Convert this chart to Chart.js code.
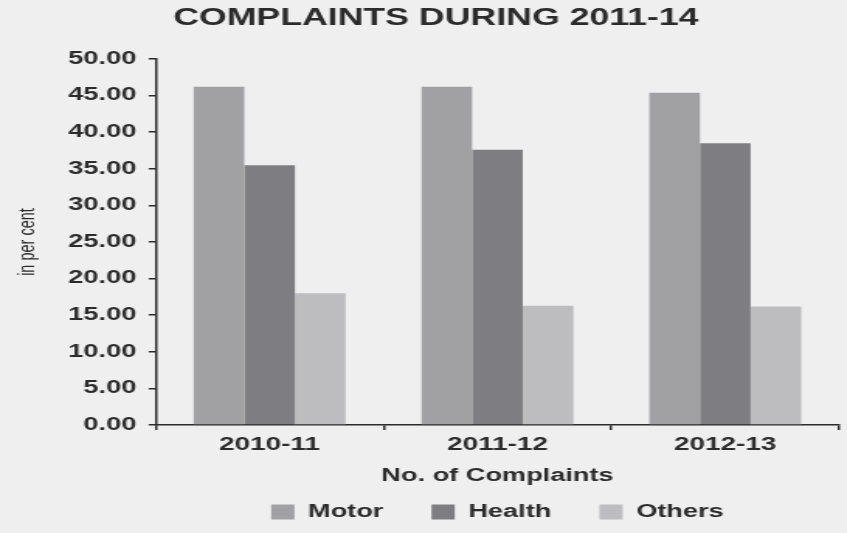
<!DOCTYPE html>
<html>
<head>
<meta charset="utf-8">
<title>Complaints during 2011-14</title>
<script src="https://cdn.jsdelivr.net/npm/chart.js@4.4.1/dist/chart.umd.min.js"></script>
<style>
  html, body { margin: 0; padding: 0; background: #efefef; }
  #complaintsChart { display: block; background: #efefef; }
</style>
</head>
<body>
<!-- canvas is drawn narrow and stretched wide, like the printed figure -->
<canvas id="complaintsChart" width="546" height="533" style="width:847px;height:533px"></canvas>
<script>
// Share of complaints by line of business (in per cent)
const categories = ['2010-11', '2011-12', '2012-13'];
const motor = [46.2, 46.2, 45.4];
const health = [35.5, 37.6, 38.5];
const others = [18.0, 16.3, 16.2];
const yMax = 50;
const yStep = 5;

const ink = '#2b2b2b';
Chart.defaults.font.family = "'Liberation Sans', Arial, sans-serif";
Chart.defaults.color = ink;

const canvas = document.getElementById('complaintsChart');
new Chart(canvas, {
  type: 'bar',
  data: {
    labels: categories,
    datasets: [
      { label: 'Motor', data: motor, backgroundColor: '#a1a1a3', borderWidth: 0 },
      { label: 'Health', data: health, backgroundColor: '#7e7d82', borderWidth: 0 },
      { label: 'Others', data: others, backgroundColor: '#bdbdbf', borderWidth: 0 }
    ]
  },
  options: {
    responsive: false,
    devicePixelRatio: 1,
    animation: false,
    layout: { padding: { top: 0, right: 5, bottom: 2.25, left: 21 } },
    datasets: { bar: { categoryPercentage: 0.667, barPercentage: 1 } },
    plugins: {
      title: {
        display: true,
        text: 'COMPLAINTS DURING 2011-14',
        color: ink,
        font: { size: 23, weight: 'bold' },
        padding: { top: 5, bottom: 26.4 }
      },
      legend: {
        position: 'bottom',
        fullSize: false,
        labels: {
          boxWidth: 15,
          boxHeight: 15,
          padding: 31,
          color: ink,
          font: { size: 17.5, weight: 'bold' }
        }
      },
      tooltip: { enabled: false }
    },
    scales: {
      x: {
        grid: { display: true, drawOnChartArea: false, offset: true, tickLength: 5, color: ink, lineWidth: 1.5 },
        border: { display: true, color: ink, width: 1.5 },
        ticks: { padding: 4, color: ink, font: { size: 18, weight: 'bold' } },
        title: {
          display: true,
          text: 'No. of Complaints',
          color: ink,
          font: { size: 17.5, weight: 'bold' },
          padding: { top: 5.9, bottom: -14.25 }
        }
      },
      y: {
        min: 0,
        max: yMax,
        grid: { display: true, drawOnChartArea: false, tickLength: 4.5, color: ink, lineWidth: 1.5 },
        border: { display: true, color: ink, width: 1.5 },
        ticks: {
          stepSize: yStep,
          padding: 8,
          color: ink,
          font: { size: 17.5, weight: 'bold' },
          callback: v => Number(v).toFixed(2)
        },
        title: {
          display: true,
          text: 'in per cent',
          color: ink,
          font: { size: 14.5, weight: 'normal' },
          padding: { top: -11.3, bottom: 9 }
        }
      }
    }
  }
});
// keep the wide display size in case the library reset it
canvas.style.width = '847px';
canvas.style.height = '533px';
</script>
</body>
</html>
